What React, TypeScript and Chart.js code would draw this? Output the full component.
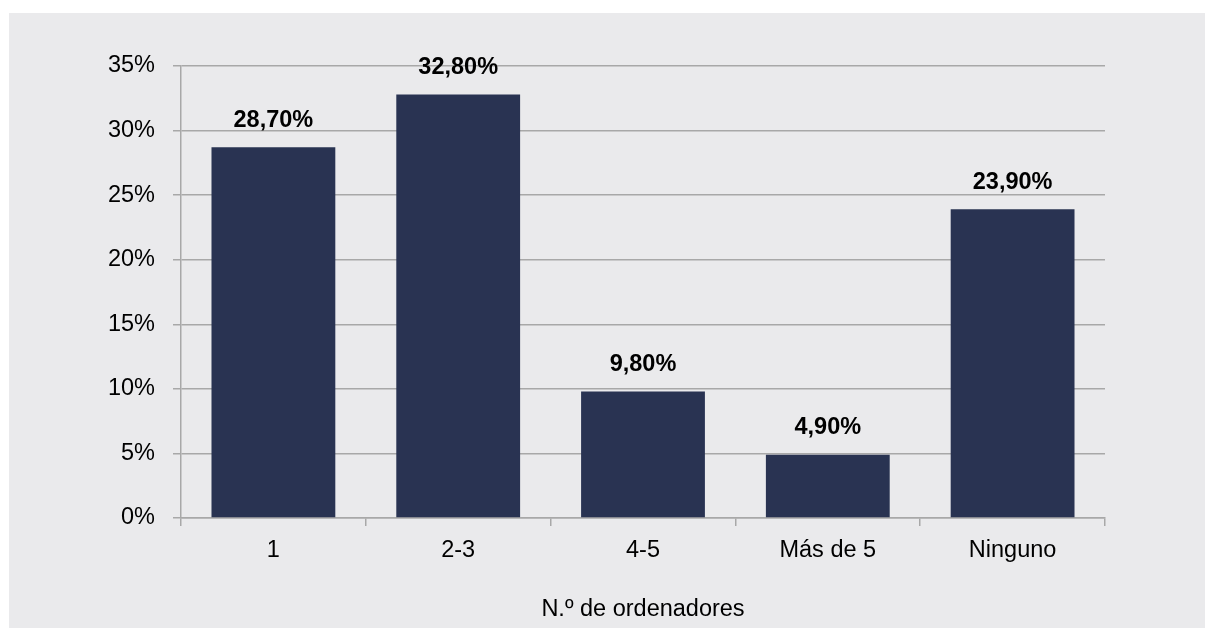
import React, { useEffect, useRef } from "react";
import { Chart, registerables } from "chart.js";

Chart.register(...registerables);

const categories = ["1", "2-3", "4-5", "Más de 5", "Ninguno"];
const values = [28.7, 32.8, 9.8, 4.9, 23.9];
const yTicks = [0, 5, 10, 15, 20, 25, 30, 35];
const xTitle = "N.º de ordenadores";

const FONT = "'Liberation Sans', Arial, Helvetica, sans-serif";
const BG = "#EAEAEC";
const GRID = "#A8A8A8";
const BAR = "#293352";

const bgPlugin = {
  id: "bgPlugin",
  beforeDraw(chart: any) {
    const { ctx, width, height } = chart;
    ctx.save();
    ctx.fillStyle = "#FFFFFF";
    ctx.fillRect(0, 0, width, height);
    ctx.fillStyle = BG;
    ctx.fillRect(9, 13, width - 9, height - 13);
    ctx.restore();
  },
};

const labelPlugin = {
  id: "labelPlugin",
  afterDatasetsDraw(chart: any) {
    const { ctx } = chart;
    const meta = chart.getDatasetMeta(0);
    ctx.save();
    ctx.font = `bold 23.5px ${FONT}`;
    ctx.fillStyle = "#000000";
    ctx.textAlign = "center";
    ctx.textBaseline = "middle";
    meta.data.forEach((el: any, i: number) => {
      const txt = values[i].toFixed(2).replace(".", ",") + "%";
      ctx.fillText(txt, el.x, el.y - 27);
    });
    ctx.restore();
  },
};

export default function App() {
  const ref = useRef<HTMLCanvasElement | null>(null);
  useEffect(() => {
    if (!ref.current) return;
    const chart = new Chart(ref.current, {
      type: "bar",
      data: {
        labels: categories,
        datasets: [
          {
            data: values,
            backgroundColor: BAR,
            borderWidth: 0,
            barPercentage: 0.67,
            categoryPercentage: 1,
          },
        ],
      },
      options: {
        animation: false,
        responsive: false,
        maintainAspectRatio: false,
        layout: { padding: { top: 66, right: 100, left: 0, bottom: 0 } },
        plugins: {
          legend: { display: false },
          tooltip: { enabled: false },
        },
        scales: {
          x: {
            offset: true,
            grid: {
              offset: true,
              drawOnChartArea: false,
              drawTicks: true,
              tickLength: 8,
              color: GRID,
              lineWidth: 1.5,
            },
            border: { color: GRID, width: 1.5 },
            ticks: {
              color: "#000000",
              font: { family: FONT, size: 23.5 },
              padding: 10,
              maxRotation: 0,
            },
            title: {
              display: true,
              text: xTitle,
              color: "#000000",
              font: { family: FONT, size: 23.5 },
              padding: { top: 0, bottom: 4 },
            },
            afterFit(scale: any) {
              scale.height = 110;
            },
          },
          y: {
            min: 0,
            max: 35,
            afterBuildTicks(scale: any) {
              scale.ticks = yTicks.map((v) => ({ value: v }));
            },
            grid: {
              color: GRID,
              lineWidth: 1.5,
              drawTicks: true,
              tickLength: 8,
            },
            border: { color: GRID, width: 1.5 },
            ticks: {
              color: "#000000",
              font: { family: FONT, size: 23.5 },
              padding: 18,
              callback: (v: any) => v + "%",
            },
            afterFit(scale: any) {
              scale.width = 181;
            },
          },
        },
      },
      plugins: [bgPlugin, labelPlugin],
    });
    return () => chart.destroy();
  }, []);
  return (
    <div style={{ position: "fixed", left: 0, top: 0, width: 1205, height: 628 }}>
      <canvas ref={ref} width={1205} height={628} />
    </div>
  );
}
